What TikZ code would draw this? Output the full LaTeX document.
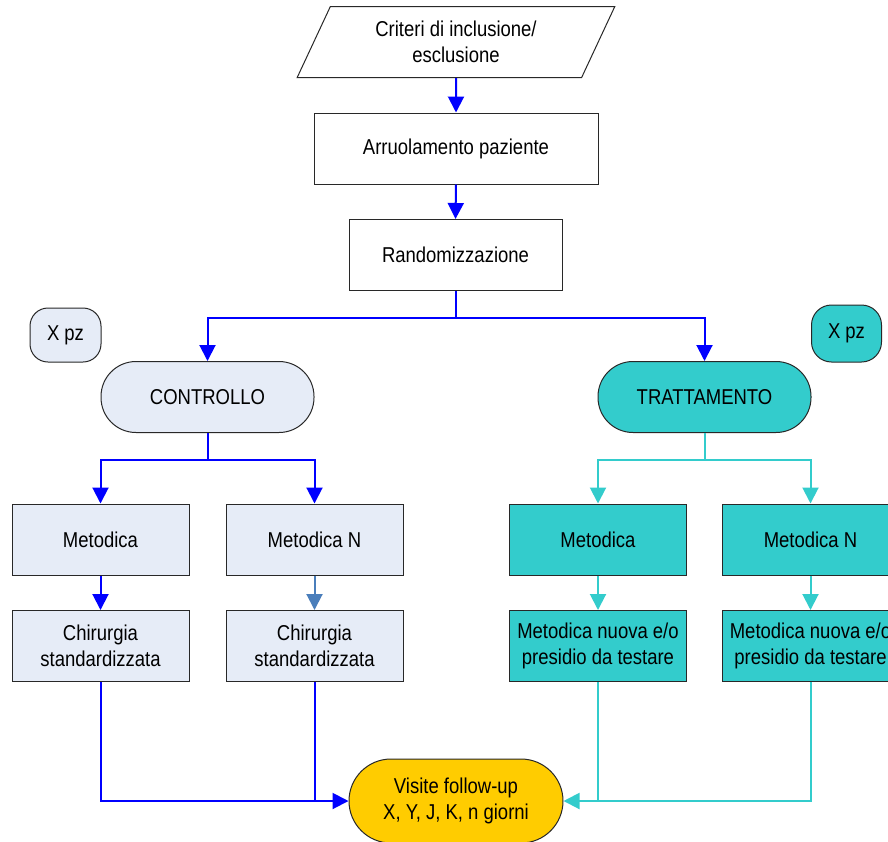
\documentclass[tikz,border=0pt]{standalone}
\usepackage{fontspec}
\setmainfont[FakeStretch=0.86]{Liberation Sans}
\usetikzlibrary{arrows.meta,shapes.geometric}
\definecolor{paleblue}{RGB}{230,236,247}
\definecolor{teal}{RGB}{51,204,204}
\definecolor{gold}{RGB}{255,204,0}
\definecolor{steel}{RGB}{74,126,187}
\definecolor{edge}{RGB}{40,40,40}
\tikzset{
  base/.style={draw=edge, line width=1pt, inner sep=0pt, align=center,
    font=\fontsize{21.5}{26}\selectfont},
  plainbox/.style={base, fill=white, minimum width=284pt, minimum height=71pt},
  ctrlbox/.style={base, fill=paleblue, minimum width=177pt, minimum height=71pt},
  trtbox/.style={base, fill=teal, minimum width=177pt, minimum height=71pt},
  pill/.style={base, rounded corners=35pt, minimum width=213pt, minimum height=71pt},
  tag/.style={base, rounded corners=18pt, minimum width=71pt, minimum height=54pt},
  blueflow/.style={draw=blue, line width=2pt, -{Triangle[width=16pt,length=16pt]}},
  blueline/.style={draw=blue, line width=2pt},
  steelflow/.style={draw=steel, line width=2pt, -{Triangle[width=16pt,length=16pt]}},
  tealflow/.style={draw=teal, line width=2pt, -{Triangle[width=16pt,length=16pt]}},
  tealline/.style={draw=teal, line width=2pt},
}
\begin{document}
\begin{tikzpicture}[x=1pt,y=-1pt]
\useasboundingbox (0,0) rectangle (888,841);
\clip (0,0) rectangle (888,841);

% top of the flow
\node[base, shape=trapezium, trapezium left angle=63, trapezium right angle=117,
      trapezium stretches=true, minimum width=318pt, minimum height=71pt, fill=white]
      (crit) at (456,42) {Criteri di inclusione/\\esclusione};
\node[plainbox] (enrol) at (456,148.5) {Arruolamento paziente};
\node[plainbox, minimum width=213pt] (rand) at (455.5,255) {Randomizzazione};

% patient counts
\node[tag, fill=paleblue] (npl) at (65.5,335) {X pz};
\node[tag, fill=teal, minimum width=70pt, minimum height=57pt, rounded corners=20pt]
      (npr) at (846.5,333.5) {X pz};

% the two arms
\node[pill, fill=paleblue] (ctrl) at (207.5,397) {CONTROLLO};
\node[pill, fill=teal] (trt) at (704.5,397) {TRATTAMENTO};

% control arm
\node[ctrlbox] (ca) at (100.5,539.5) {Metodica};
\node[ctrlbox] (cb) at (314.5,539.5) {Metodica N};
\node[ctrlbox] (cc) at (100.5,646) {Chirurgia\\standardizzata};
\node[ctrlbox] (cd) at (314.5,646) {Chirurgia\\standardizzata};

% treatment arm
\node[trtbox] (ta) at (598,539.5) {Metodica};
\node[trtbox] (tb) at (810.5,539.5) {Metodica N};
\node[trtbox] (tc) at (598,646) {Metodica nuova e/o\\presidio da testare};
\node[trtbox] (td) at (810.5,646) {Metodica nuova e/o\\presidio da testare};

% follow-up
\node[pill, fill=gold, rounded corners=42pt, minimum width=214pt, minimum height=84pt]
      (fu) at (456,801) {Visite follow-up\\X, Y, J, K, n giorni};

% connectors
\draw[blueflow] (crit.south) -- (enrol.north);
\draw[blueflow] (enrol.south) -- (rand.north);
\draw[blueflow] (rand.south) -- ++(0,27) -| (ctrl.north);
\draw[blueflow] (rand.south) -- ++(0,27) -| (trt.north);

\draw[blueflow] (ctrl.south) -- ++(0,27) -| (ca.north);
\draw[blueflow] (ctrl.south) -- ++(0,27) -| (cb.north);
\draw[blueflow] (ca.south) -- (cc.north);
\draw[steelflow] (cb.south) -- (cd.north);

\draw[tealflow] (trt.south) -- ++(0,27) -| (ta.north);
\draw[tealflow] (trt.south) -- ++(0,27) -| (tb.north);
\draw[tealflow] (ta.south) -- (tc.north);
\draw[tealflow] (tb.south) -- (td.north);

\draw[blueline] (cd.south) -- (cd.south |- fu.west);
\draw[blueflow] (cc.south) |- (fu.west);
\draw[tealline] (tc.south) -- (tc.south |- fu.east);
\draw[tealflow] (td.south) |- (fu.east);
\end{tikzpicture}
\end{document}
